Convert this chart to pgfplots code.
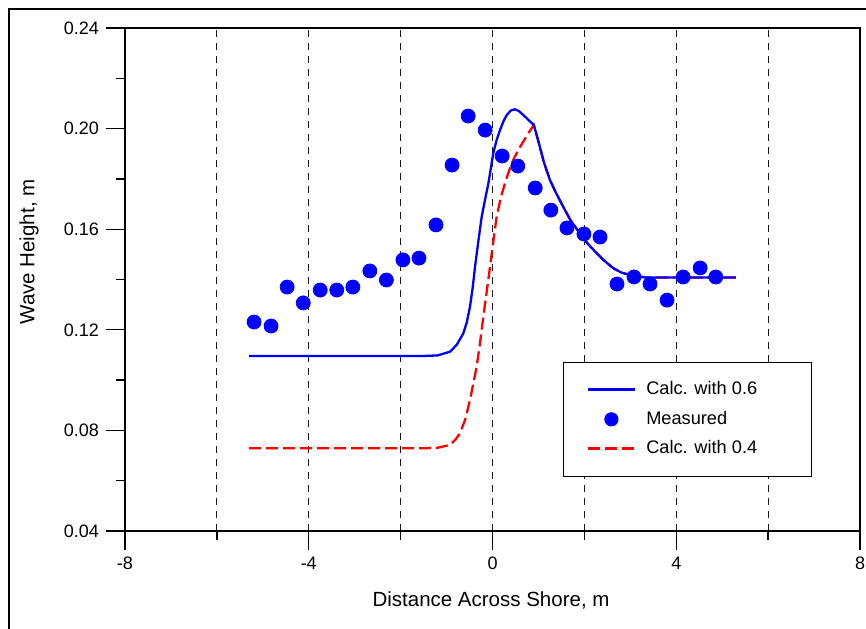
\documentclass[border=0pt]{standalone}
\usepackage{fontspec}
\setmainfont{Liberation Sans}
\usepackage{pgfplots}
\pgfplotsset{compat=1.18}

\pgfplotstableread{
x y
-5.30 0.1096
-1.50 0.1096
-1.20 0.1098
-0.925 0.1113
-0.78 0.1140
-0.635 0.1186
-0.56 0.1230
-0.49 0.1292
-0.43 0.1370
-0.38 0.1451
-0.31 0.1550
-0.235 0.1650
-0.16 0.1720
-0.09 0.1782
0.017 0.1902
0.09 0.1955
0.163 0.1994
0.24 0.2030
0.31 0.2054
0.40 0.2072
0.49 0.2077
0.58 0.2069
0.67 0.2054
0.78 0.2035
0.90 0.2014
0.96 0.1975
1.03 0.1928
1.12 0.1865
1.25 0.1796
1.38 0.1745
1.54 0.1689
1.70 0.1635
1.90 0.1584
2.08 0.1541
2.27 0.1504
2.45 0.1472
2.63 0.1445
2.80 0.1428
2.99 0.1418
3.20 0.1411
3.36 0.1408
4.00 0.1408
5.30 0.1408
}\blueline

\pgfplotstableread{
x y
-5.30 0.0729
-1.50 0.0729
-1.20 0.0731
-0.925 0.0742
-0.80 0.0765
-0.71 0.0788
-0.60 0.0840
-0.49 0.0921
-0.42 0.0985
-0.345 0.1053
-0.27 0.1150
-0.20 0.1252
-0.12 0.1360
-0.054 0.1451
0.02 0.1555
0.09 0.1650
0.18 0.1725
0.27 0.1782
0.36 0.1832
0.45 0.1875
0.56 0.1915
0.67 0.1948
0.78 0.1982
0.90 0.2014
0.96 0.1975
1.03 0.1928
1.12 0.1865
1.25 0.1796
1.38 0.1745
1.54 0.1689
1.70 0.1635
1.90 0.1584
2.08 0.1541
2.27 0.1504
2.45 0.1472
2.63 0.1445
2.80 0.1428
2.99 0.1418
3.20 0.1411
3.36 0.1408
4.00 0.1408
5.30 0.1408
}\redline

\pgfplotstableread{
x y
-5.19 0.1231
-4.82 0.1215
-4.47 0.1370
-4.12 0.1307
-3.75 0.1358
-3.39 0.1358
-3.04 0.1370
-2.67 0.1434
-2.31 0.1398
-1.95 0.1478
-1.60 0.1485
-1.23 0.1617
-0.88 0.1855
-0.53 0.2050
-0.16 0.1994
0.21 0.1891
0.55 0.1851
0.93 0.1764
1.27 0.1676
1.62 0.1605
1.99 0.1581
2.34 0.1569
2.71 0.1382
3.08 0.1410
3.43 0.1382
3.80 0.1318
4.15 0.1410
4.52 0.1446
4.86 0.1410
}\measured

\begin{document}
\begin{tikzpicture}
\useasboundingbox (-62.5pt,-48.5pt) rectangle (370.5pt,265.5pt);
\draw[line width=0.6pt] (-58pt,-60pt) -- (-58pt,261pt) -- (380pt,261pt);
\begin{axis}[
  at={(0pt,0pt)}, anchor=south west,
  scale only axis, width=367.5pt, height=251.5pt,
  xmin=-8, xmax=8, ymin=0.04, ymax=0.24,
  xtick={-8,-4,0,4,8}, xticklabels={-8,-4,0,4,8},
  minor xtick={-6,-2,2,6},
  ytick={0.04,0.08,0.12,0.16,0.20,0.24},
  yticklabels={0.04,0.08,0.12,0.16,0.20,0.24},
  minor ytick={0.06,0.10,0.14,0.18,0.22},
  tick pos=left, tick align=outside,
  major tick length=9.5pt, minor tick length=4.5pt,
  tick style={black, line width=0.65pt},
  axis line style={line width=0.65pt},
  xmajorgrids, xminorgrids,
  major grid style={dash pattern=on 3.4pt off 3.1pt, black!90, line width=0.5pt},
  minor grid style={dash pattern=on 3.4pt off 3.1pt, black!90, line width=0.5pt},
  ticklabel style={font=\fontsize{9}{10}\selectfont},
  xlabel={Distance Across Shore, m},
  ylabel={Wave Height, m},
  label style={font=\fontsize{10.25}{12}\selectfont},
  xlabel style={at={(axis description cs:0.498,-0.137)}, anchor=center},
  ylabel style={at={(axis description cs:-0.1306,0.5547)}, anchor=center},
  legend image code/.code={\draw[mark repeat=2,mark phase=2,#1] plot coordinates {(0pt,0pt) (11.75pt,0pt) (23.5pt,0pt)};},
  legend style={at={(axis description cs:0.5959,0.336)}, anchor=north west,
    draw=black, line width=0.5pt, fill=white,
    inner xsep=11.5pt, inner ysep=6.3pt, column sep=5pt, row sep=0pt,
    font=\fontsize{9.1}{10}\selectfont,
    nodes={inner sep=0pt, minimum height=14.75pt}},
  legend cell align=left,
]
\addplot[red, line width=1.15pt, dash pattern=on 6pt off 2.5pt, forget plot] table {\redline};
\addplot[blue, line width=1.15pt, forget plot] table {\blueline};
\addplot[only marks, mark=*, mark size=3.5pt, blue, forget plot] table {\measured};
\addlegendimage{blue, line width=1.4pt}
\addlegendentry{\makebox[71pt][l]{Calc. with 0.6}}
\addlegendimage{only marks, mark=*, mark size=3.3pt, blue}
\addlegendentry{\makebox[71pt][l]{Measured}}
\addlegendimage{red, line width=1.4pt, dash pattern=on 6pt off 2.5pt}
\addlegendentry{\makebox[71pt][l]{Calc. with 0.4}}
\end{axis}
\end{tikzpicture}
\end{document}
